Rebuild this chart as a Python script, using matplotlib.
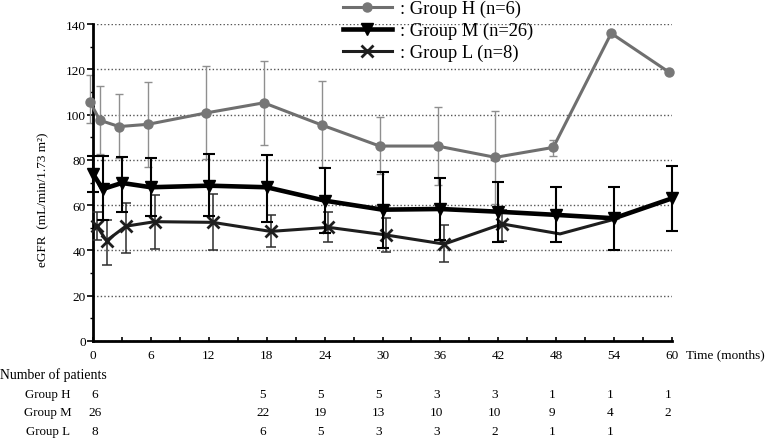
"""eGFR course by group (H / M / L) with SD bars and a number-at-risk table below."""

import matplotlib

matplotlib.use("Agg")
import matplotlib.pyplot as plt  # noqa: E402
import matplotlib.transforms as mtrans  # noqa: E402
import numpy as np  # noqa: E402
from matplotlib.lines import Line2D  # noqa: E402
from matplotlib.ticker import MultipleLocator  # noqa: E402

# ---- data -----------------------------------------------------------------------------
months = [0, 1, 3, 6, 12, 18, 24, 30, 36, 42, 48, 54, 60]

h_mean = [105.5, 97.5, 94.7, 95.7, 100.7, 105.2, 95.4, 86.1, 86.1, 81.1, 85.5, 135.9, 118.7]
h_upper = [117.5, 112.8, 109.0, 114.3, 121.3, 123.8, 115.0, 98.8, 103.2, 101.7, 88.8, None, None]
h_lower = [96.2, 82.5, 81.0, 76.7, 80.3, 86.6, 76.7, 73.8, 68.9, 60.5, 81.8, None, None]

m_mean = [73.8, 67.1, 69.8, 67.9, 68.6, 67.9, 62.0, 58.0, 58.3, 57.1, 55.7, 54.2, 63.0]
m_upper = [81.8, 81.8, 81.1, 80.7, 82.6, 82.2, 76.4, 74.8, 72.0, 70.4, 67.9, 67.9, 77.4]
m_lower = [66.0, 53.5, 57.0, 55.0, 55.0, 52.7, 47.6, 41.2, 44.6, 43.8, 43.6, 40.0, 48.4]

l_months = months[:-1]
l_mean = [50.7, 44.3, 50.7, 52.7, 52.4, 48.4, 50.2, 46.8, 42.8, 51.7, 47.3, 54.2]
l_upper = [56.8, 53.6, 61.0, 64.5, 64.8, 55.8, 56.8, 54.2, 51.4, 58.0, None, None]
l_lower = [44.7, 33.7, 38.9, 40.6, 40.3, 41.7, 43.6, 39.2, 34.8, 44.3, None, None]

table_months = [0, 18, 24, 30, 36, 42, 48, 54, 60]
n_h = ["6", "5", "5", "5", "3", "3", "1", "1", "1"]
n_m = ["26", "22", "19", "13", "10", "10", "9", "4", "2"]
n_l = ["8", "6", "5", "3", "3", "2", "1", "1", ""]

labels = [": Group H (n=6)", ": Group M (n=26)", ": Group L (n=8)"]
row_names = ["Group H", "Group M", "Group L"]

W, H = 778, 439


def arr(v):
    return np.array([np.nan if x is None else x for x in v], dtype=float)


def draw_group(ax, t, mean, lo, hi, dodge, line_kw, err_kw, markevery=None):
    t = np.asarray(t, float) + dodge
    mean, lo, hi = arr(mean), arr(lo), arr(hi)
    ok = np.isfinite(lo)
    ax.errorbar(t[ok], mean[ok], yerr=[mean[ok] - lo[ok], hi[ok] - mean[ok]], fmt="none",
                clip_on=False, **err_kw)
    ax.plot(t, mean, clip_on=False, markevery=markevery, **line_kw)


def main():
    plt.rcParams["font.family"] = ["Liberation Serif", "DejaVu Serif"]
    fig = plt.figure(figsize=(W / 100, H / 100), dpi=100)
    ax = fig.add_axes([93 / W, 1 - 342 / H, (672 - 93) / W, (342 - 25) / H])

    h_line = dict(color="#6f6f6f", lw=2.2, marker="o", ms=6.5, mfc="#777777", mec="#777777", zorder=3)
    h_err = dict(ecolor="#8f8f8f", elinewidth=1.0, capsize=3.2, capthick=1.0, zorder=2)
    m_line = dict(color="black", lw=3.3, marker="v", ms=9, zorder=5)
    m_err = dict(ecolor="black", elinewidth=1.5, capsize=4.5, capthick=1.5, zorder=4)
    l_line = dict(color="#1e1e1e", lw=2.2, marker="x", ms=8, mew=2.0, zorder=4)
    l_err = dict(ecolor="#2e2e2e", elinewidth=1.1, capsize=3.6, capthick=1.1, zorder=3)

    draw_group(ax, months, h_mean, h_lower, h_upper, -0.3, h_line, h_err)
    draw_group(ax, l_months, l_mean, l_lower, l_upper, 0.4, l_line, l_err,
               markevery=list(range(10)))
    draw_group(ax, months, m_mean, m_lower, m_upper, 0.0, m_line, m_err)

    ax.set_xlim(0, 60)
    ax.set_ylim(0, 140)
    ax.xaxis.set_major_locator(MultipleLocator(6))
    ax.xaxis.set_minor_locator(MultipleLocator(3))
    ax.yaxis.set_major_locator(MultipleLocator(20))
    ax.yaxis.set_minor_locator(MultipleLocator(10))
    ax.tick_params(axis="x", which="both", direction="in", length=3, width=1.2, labelsize=9.5, pad=6)
    ax.tick_params(axis="y", which="major", direction="out", length=4, width=1.2, labelsize=9.5, pad=1)
    ax.tick_params(axis="y", which="minor", direction="out", length=2, width=1.0)
    for s in ("top", "right"):
        ax.spines[s].set_visible(False)
    for s in ("left", "bottom"):
        ax.spines[s].set_linewidth(2.0)
    ax.yaxis.grid(True, which="major", ls=(0, (1, 1.6)), color="#555555", lw=1.0)
    ax.set_axisbelow(True)

    ax.set_ylabel("eGFR  (mL/min/1.73 m²)", fontsize=9.5)
    ax.yaxis.set_label_coords(-44 / 579, 0.45)

    fig.text(686 / W, 1 - 355 / H, "Time (months)", fontsize=9.5, va="center", ha="left")

    # number-at-risk table under the axis
    fig.text(0.0, 1 - 375 / H, "Number of patients", fontsize=9.9, va="center", ha="left")
    tr = mtrans.blended_transform_factory(ax.transData, fig.transFigure)
    for name, counts, y in zip(row_names, (n_h, n_m, n_l), (395, 413, 432)):
        fig.text(48 / W, 1 - y / H, name, fontsize=9.3, va="center", ha="center")
        for t, c in zip(table_months, counts):
            dx = 0.2 if t == 0 else -0.4
            ax.text(t + dx, 1 - y / H, c, transform=tr, fontsize=9.5, va="center", ha="center",
                    clip_on=False)

    handles = [
        Line2D([], [], **{k: v for k, v in h_line.items() if k != "zorder"}),
        Line2D([], [], **{k: v for k, v in m_line.items() if k != "zorder"}),
        Line2D([], [], **{k: v for k, v in l_line.items() if k != "zorder"}),
    ]
    fig.legend(handles, labels, loc="upper left", bbox_to_anchor=(343 / W, 0.998), frameon=False,
               fontsize=13.3, handlelength=2.65, handletextpad=0.43, labelspacing=0.25,
               borderpad=0.0, borderaxespad=0.0)

    fig.savefig("out.png", dpi=100)


if __name__ == "__main__":
    main()
